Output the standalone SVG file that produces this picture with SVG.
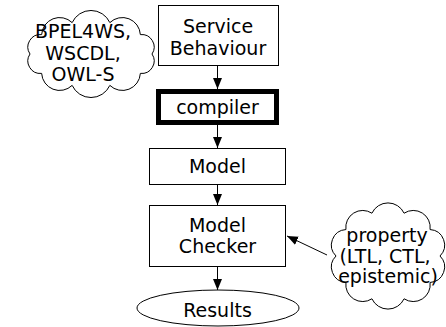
<svg xmlns="http://www.w3.org/2000/svg" width="446" height="327" viewBox="0 0 446 327">
<defs>
<style>
.box{fill:#fff;stroke:#000;stroke-width:1}
.thick{fill:#fff;stroke:#000;stroke-width:5}
.cloud{fill:#fff;stroke:#000;stroke-width:1}
.t{font-family:"DejaVu Sans",sans-serif;font-size:19px;fill:#000;text-anchor:middle}
.edge{stroke:#000;stroke-width:1;fill:none;marker-end:url(#ah)}
</style>
<marker id="ah" markerUnits="userSpaceOnUse" markerWidth="11" markerHeight="10" refX="11" refY="4.5" orient="auto">
<path d="M0,0 L11,4.5 L0,9 z" fill="#000"/>
</marker>
</defs>
<rect width="446" height="327" fill="#fff"/>
<g id="edges">
<line class="edge" x1="217.5" y1="65.5" x2="217.5" y2="89"/>
<line class="edge" x1="217.5" y1="125" x2="217.5" y2="148"/>
<line class="edge" x1="217.5" y1="184.5" x2="217.5" y2="205"/>
<line class="edge" x1="217.5" y1="266.5" x2="217.5" y2="290"/>
<line class="edge" x1="327" y1="255" x2="287" y2="236"/>
</g>
<g id="service">
<rect class="box" x="158.5" y="5.5" width="120" height="60"/>
<text class="t" x="218" y="33">Service</text>
<text class="t" x="218" y="55">Behaviour</text>
</g>
<g id="bpel">
<path class="cloud" d="M30,54 A12.5,12.5 0 0 1 41.65,34.6 A18,18 0 0 1 72.15,22.62 A20.7,20.7 0 0 1 109.85,22.62 A18,18 0 0 1 140.35,34.6 A12.5,12.5 0 0 1 152,54 A12.5,12.5 0 0 1 140.35,73.4 A18,18 0 0 1 109.85,85.38 A20.7,20.7 0 0 1 72.15,85.38 A18,18 0 0 1 41.65,73.4 A12.5,12.5 0 0 1 30,54 z"/>
<text class="t" x="83" y="38">BPEL4WS,</text>
<text class="t" x="83" y="60">WSCDL,</text>
<text class="t" x="83" y="81">OWL-S</text>
</g>
<g id="compiler">
<rect class="thick" x="158.5" y="91.5" width="118" height="31"/>
<text class="t" x="217.5" y="113.5">compiler</text>
</g>
<g id="model">
<rect class="box" x="149.5" y="148.5" width="136" height="36"/>
<text class="t" x="217.5" y="173">Model</text>
</g>
<g id="checker">
<rect class="box" x="149.5" y="205.5" width="136" height="61"/>
<text class="t" x="217.5" y="231.5">Model</text>
<text class="t" x="217.5" y="252.5">Checker</text>
</g>
<g id="results">
<ellipse class="box" cx="218" cy="308" rx="81" ry="18"/>
<text class="t" x="217.5" y="316.5">Results</text>
</g>
<g id="property">
<path class="cloud" d="M336,256 A15.5,15.5 0 0 1 345.93,229.54 A16.9,16.9 0 0 1 371.93,213.2 A17.7,17.7 0 0 1 404.07,213.2 A16.9,16.9 0 0 1 430.07,229.54 A15.5,15.5 0 0 1 440,256 A15.5,15.5 0 0 1 430.07,282.46 A16.9,16.9 0 0 1 404.07,298.8 A17.7,17.7 0 0 1 371.93,298.8 A16.9,16.9 0 0 1 345.93,282.46 A15.5,15.5 0 0 1 336,256 z"/>
<text class="t" x="387" y="241.5">property</text>
<text class="t" x="385" y="263">(LTL, CTL,</text>
<text class="t" x="388" y="283">epistemic)</text>
</g>
</svg>
